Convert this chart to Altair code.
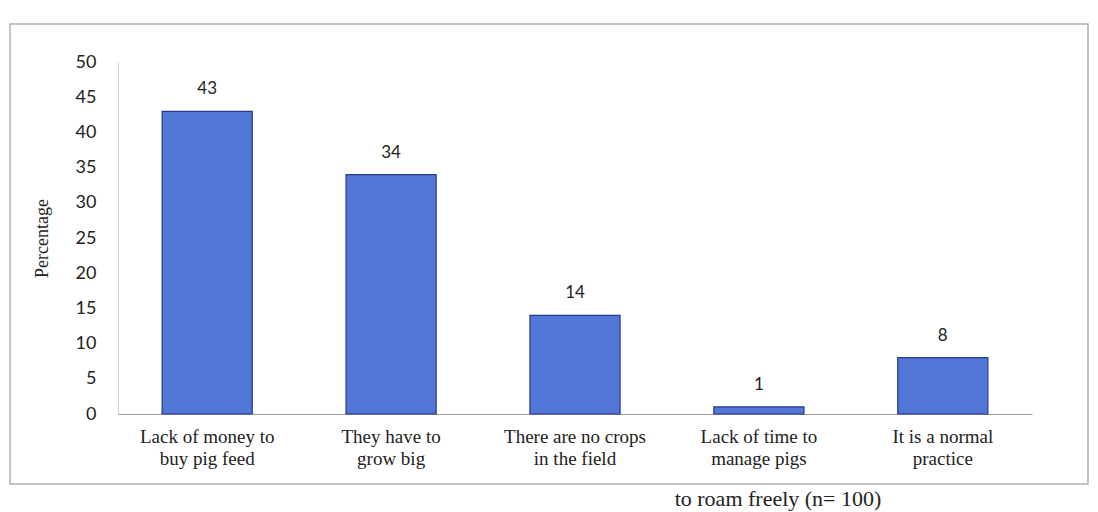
import altair as alt
import pandas as pd

# Reasons for letting pigs roam freely (percent of respondents, n = 100)
reasons = [
    "Lack of money to\nbuy pig feed",
    "They have to\ngrow big",
    "There are no crops\nin the field",
    "Lack of time to\nmanage pigs",
    "It is a normal\npractice",
]
percent = [43, 34, 14, 1, 8]
y_ticks = [0, 5, 10, 15, 20, 25, 30, 35, 40, 45, 50]

df = pd.DataFrame({"reason": reasons, "pct": percent})

PLOT_W, PLOT_H = 914, 352
PAD_L, PAD_T = 118, 62
SERIF = "Liberation Serif"
SANS = "Lato"

x_scale = alt.Scale(paddingInner=0.51, paddingOuter=0.24)
y_scale = alt.Scale(domain=[0, 50], nice=False)

x_axis = alt.Axis(labels=False, ticks=False, title=None, domainColor="#9a9a9a", domainWidth=1.2)
y_axis = alt.Axis(
    values=y_ticks,
    labelOverlap=False,
    grid=False,
    ticks=False,
    domainColor="#cfcfcf",
    labelFont=SANS,
    labelFontSize=18,
    labelColor="#222222",
    labelPadding=22,
    title="Percentage",
    titleFont=SERIF,
    titleFontSize=18,
    titleFontWeight="normal",
    titleColor="#222222",
    titlePadding=24,
)

x_enc = alt.X("reason:N", sort=reasons, scale=x_scale, axis=x_axis)
y_enc = alt.Y("pct:Q", scale=y_scale, axis=y_axis)

base = alt.Chart(df)

bars = base.mark_bar(
    color="#5276d6",
    stroke="#26398f",
    strokeWidth=1.2,
).encode(x=x_enc, y=y_enc)

values = base.mark_text(font=SANS, fontSize=17, color="#222222", dy=-22).encode(
    x=x_enc,
    y=y_enc,
    text=alt.Text("pct:Q"),
)

cats = base.mark_text(
    font=SERIF,
    fontSize=19,
    color="#222222",
    lineBreak="\n",
    lineHeight=22,
    baseline="top",
).encode(
    x=x_enc,
    y=alt.value(PLOT_H + 14),
    text="reason:N",
)

# Outer frame around the figure
frame = alt.Chart(pd.DataFrame({"k": [0]})).mark_rect(
    fill=None, stroke="#b0b0b0", strokeWidth=1.5
).encode(
    x=alt.value(-PAD_L + 10),
    x2=alt.value(PLOT_W + 56),
    y=alt.value(-PAD_T + 24),
    y2=alt.value(PLOT_H + 70),
)

caption = alt.Chart(pd.DataFrame({"t": ["to roam freely (n= 100)"]})).mark_text(
    font=SERIF, fontSize=22, color="#222222", align="center", baseline="bottom"
).encode(
    x=alt.value(660),
    y=alt.value(512 - PAD_T - 1),
    text="t:N",
)

chart = (
    alt.layer(frame, bars, values, cats, caption)
    .properties(
        width=PLOT_W,
        height=PLOT_H,
        autosize=alt.AutoSizeParams(type="none"),
        padding={"left": PAD_L, "top": PAD_T, "right": 1098 - PAD_L - PLOT_W, "bottom": 512 - PAD_T - PLOT_H},
        background="white",
    )
    .configure_view(stroke=None)
    .configure_axisY(labelOverlap=False)
)

chart.save("out.html", embed_options={"renderer": "svg", "actions": False})
